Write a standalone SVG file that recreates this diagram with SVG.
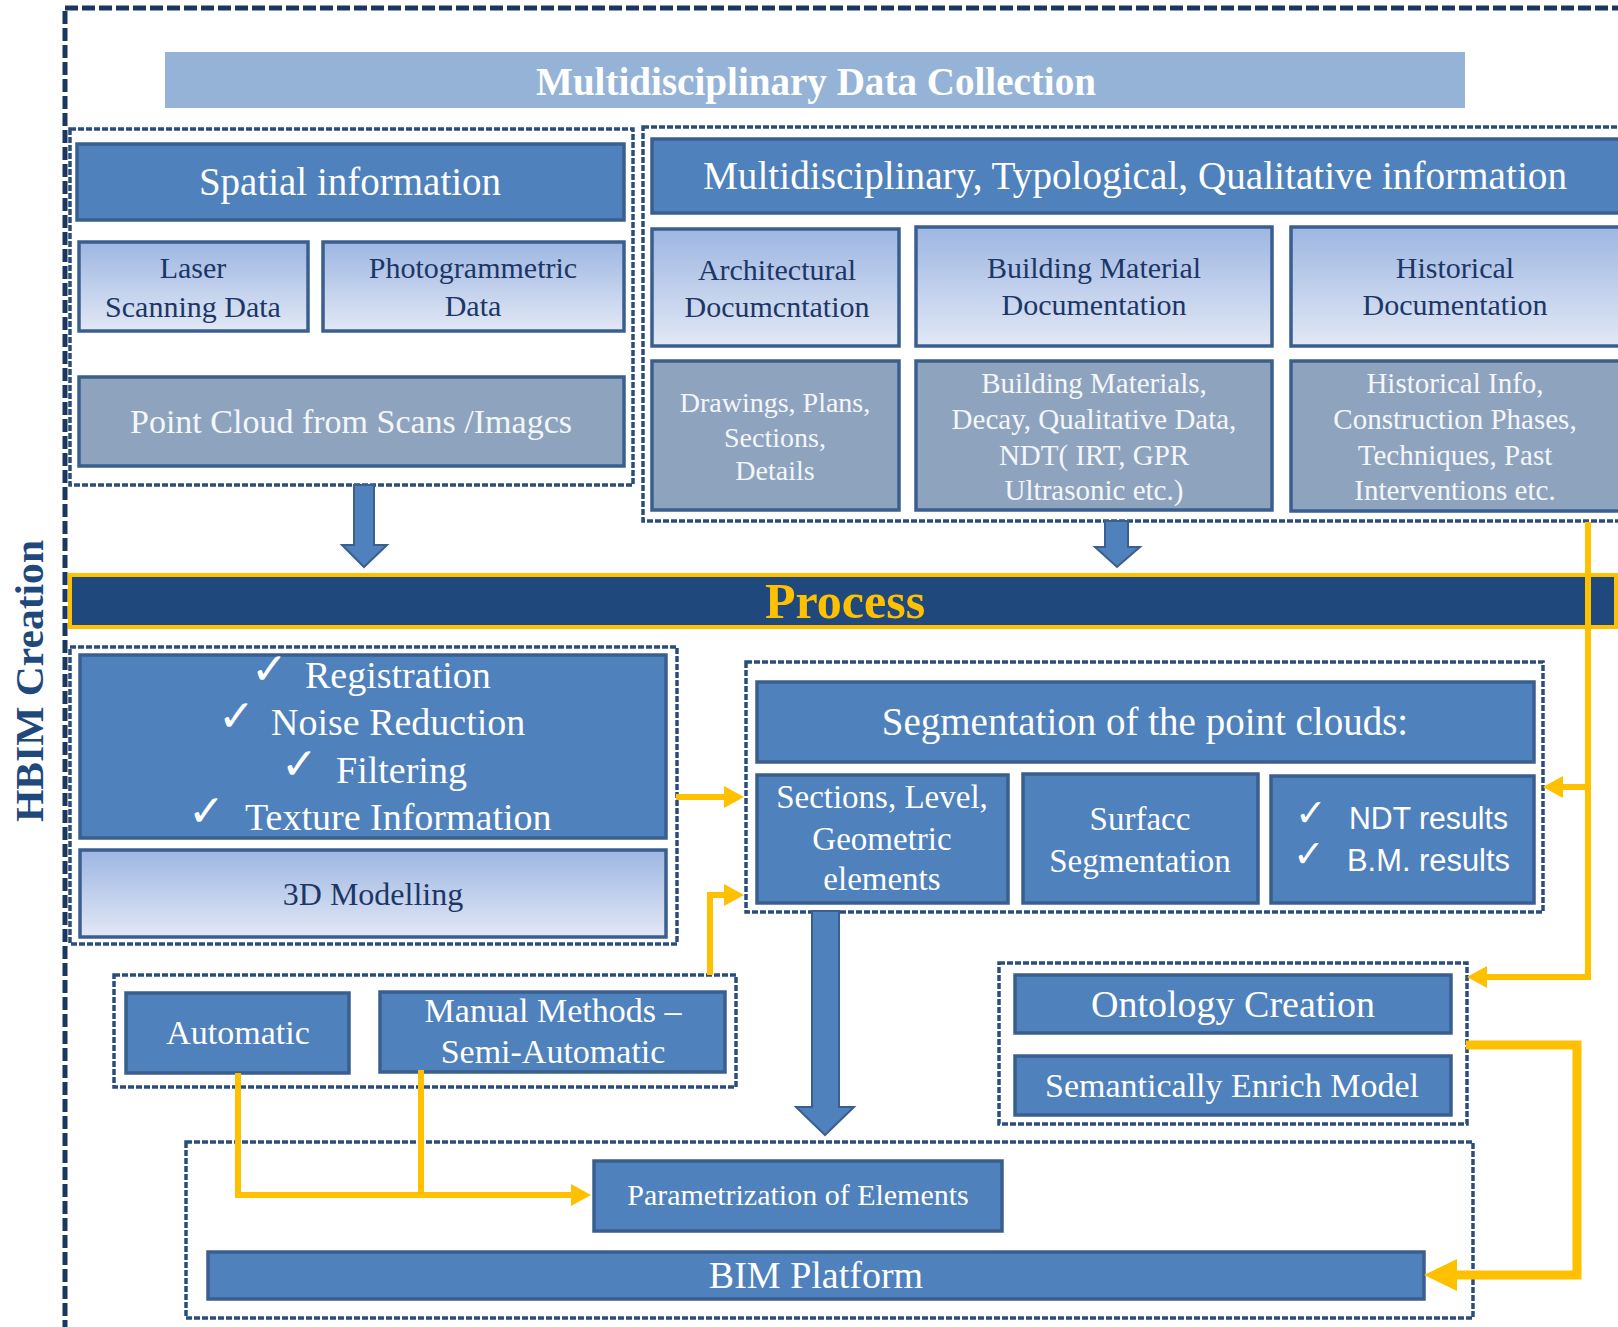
<svg xmlns="http://www.w3.org/2000/svg" width="1618" height="1327" viewBox="0 0 1618 1327">
  <defs>
    <linearGradient id="lightFill" x1="0" y1="0" x2="0" y2="1">
      <stop offset="0" stop-color="#9DB6E2"/>
      <stop offset="1" stop-color="#E2E8F5"/>
    </linearGradient>
    <marker id="goldHead" markerUnits="userSpaceOnUse" viewBox="0 0 20 22" markerWidth="20" markerHeight="22" refX="0" refY="11" orient="auto">
      <path d="M0,0 L20,11 L0,22 z" fill="#FFC000"/>
    </marker>
    <marker id="goldHeadBig" markerUnits="userSpaceOnUse" viewBox="0 0 33 32" markerWidth="33" markerHeight="32" refX="0" refY="16" orient="auto">
      <path d="M0,0 L33,16 L0,32 z" fill="#FFC000"/>
    </marker>
    <style>
      .frame { fill: none; stroke: #1B365F; stroke-width: 5; stroke-dasharray: 13 4; }
      .grp { fill: none; stroke: #2B4C7E; stroke-width: 3.5; stroke-dasharray: 6 2; }
      .blue { fill: #4F81BD; stroke: #3A5F8F; stroke-width: 3.5; }
      .light { fill: url(#lightFill); stroke: #3A5F8F; stroke-width: 3.5; }
      .gray { fill: #8EA4BE; stroke: #3A5F8F; stroke-width: 3.5; }
      .arrow { fill: #4F81BD; stroke: #3A5F8F; stroke-width: 2; }
      .gold { fill: none; stroke: #FFC000; stroke-width: 6; }
      .goldw { fill: none; stroke: #FFC000; stroke-width: 9; }
      text { font-family: "Liberation Serif", "Times New Roman", serif; text-anchor: middle; }
      .w { fill: #FFFFFF; }
      .d { fill: #1C3766; }
      .gw { fill: #F4F6FA; }
      .ck { font-family: "DejaVu Sans", sans-serif; font-size: 44px; text-anchor: start; }
      .cks { font-family: "DejaVu Sans", sans-serif; font-size: 38px; text-anchor: start; }
    </style>
  </defs>

  <!-- outer frame and side label -->
  <rect class="frame" x="65" y="8" width="1600" height="1400"/>
  <text x="43" y="681" transform="rotate(-90 43 681)" font-size="40" font-weight="bold" fill="#1F497D" textLength="282" lengthAdjust="spacingAndGlyphs">HBIM Creation</text>

  <!-- title bar -->
  <g id="data-collection">
    <rect x="165" y="52" width="1300" height="56" fill="#95B3D7"/>
    <text class="w" x="816" y="95" font-size="39" font-weight="bold" textLength="560" lengthAdjust="spacingAndGlyphs">Multidisciplinary  Data  Collection</text>
  </g>

  <!-- dotted group outlines -->
  <g id="groups">
    <rect class="grp" x="70" y="129" width="563" height="356"/>
    <rect class="grp" x="643" y="127" width="1000" height="394"/>
    <rect class="grp" x="70" y="647" width="607" height="297"/>
    <rect class="grp" x="746" y="662" width="797" height="250"/>
    <rect class="grp" x="114" y="975" width="622" height="112"/>
    <rect class="grp" x="999" y="963" width="468" height="161"/>
    <rect class="grp" x="186" y="1142" width="1287" height="176"/>
  </g>

  <!-- spatial information column -->
  <g id="spatial-information">
    <rect class="blue" x="77" y="144" width="547" height="76"/>
    <text class="w" x="350" y="195" font-size="39">Spatial information</text>
  </g>
  <g id="laser-scanning">
    <rect class="light" x="79" y="242" width="229" height="89"/>
    <text class="d" x="193" y="278" font-size="30">Laser</text>
    <text class="d" x="193" y="317" font-size="30">Scanning Data</text>
  </g>
  <g id="photogrammetric">
    <rect class="light" x="323" y="242" width="301" height="89"/>
    <text class="d" x="473" y="278" font-size="30">Photogrammetric</text>
    <text class="d" x="473" y="316" font-size="30">Data</text>
  </g>
  <g id="point-cloud">
    <rect class="gray" x="79" y="377" width="545" height="89"/>
    <text class="gw" x="351" y="433" font-size="34">Point Cloud from Scans /Imagcs</text>
  </g>

  <!-- qualitative information column -->
  <g id="qualitative-information">
    <rect class="blue" x="652" y="139" width="980" height="74"/>
    <text class="w" x="1135" y="189" font-size="39" textLength="864" lengthAdjust="spacingAndGlyphs">Multidisciplinary, Typological, Qualitative information</text>
  </g>
  <g id="architectural-doc">
    <rect class="light" x="652" y="229" width="247" height="117"/>
    <text class="d" x="777" y="280" font-size="30">Architectural</text>
    <text class="d" x="777" y="317" font-size="30">Documcntation</text>
  </g>
  <g id="material-doc">
    <rect class="light" x="916" y="227" width="356" height="119"/>
    <text class="d" x="1094" y="278" font-size="30">Building Material</text>
    <text class="d" x="1094" y="315" font-size="30">Documentation</text>
  </g>
  <g id="historical-doc">
    <rect class="light" x="1291" y="227" width="340" height="119"/>
    <text class="d" x="1455" y="278" font-size="30">Historical</text>
    <text class="d" x="1455" y="315" font-size="30">Documentation</text>
  </g>
  <g id="drawings">
    <rect class="gray" x="652" y="361" width="247" height="149"/>
    <text class="gw" x="775" y="412" font-size="28">Drawings, Plans,</text>
    <text class="gw" x="775" y="447" font-size="28">Sections,</text>
    <text class="gw" x="775" y="480" font-size="28">Details</text>
  </g>
  <g id="materials-data">
    <rect class="gray" x="916" y="361" width="356" height="149"/>
    <text class="gw" x="1094" y="393" font-size="29">Building Materials,</text>
    <text class="gw" x="1094" y="429" font-size="29">Decay, Qualitative Data,</text>
    <text class="gw" x="1094" y="465" font-size="29">NDT( IRT, GPR</text>
    <text class="gw" x="1094" y="500" font-size="29">Ultrasonic etc.)</text>
  </g>
  <g id="historical-data">
    <rect class="gray" x="1291" y="361" width="340" height="150"/>
    <text class="gw" x="1455" y="393" font-size="29">Historical Info,</text>
    <text class="gw" x="1455" y="429" font-size="29">Construction Phases,</text>
    <text class="gw" x="1455" y="465" font-size="29">Techniques, Past</text>
    <text class="gw" x="1455" y="500" font-size="29">Interventions  etc.</text>
  </g>

  <!-- process band -->
  <g id="process">
    <rect x="70" y="575" width="1546" height="52" fill="#1F497D" stroke="#FFC000" stroke-width="4"/>
    <text x="765" y="618" font-size="50" font-weight="bold" fill="#FFC000" style="text-anchor:start">Process</text>
  </g>

  <!-- pre-processing -->
  <g id="preprocessing">
    <rect class="blue" x="80" y="655" width="586" height="183"/>
    <text class="w ck" x="251" y="684">✓</text>
    <text class="w" x="305" y="688" font-size="38" style="text-anchor:start">Registration</text>
    <text class="w ck" x="218" y="731">✓</text>
    <text class="w" x="271" y="735" font-size="38" style="text-anchor:start">Noise Reduction</text>
    <text class="w ck" x="281" y="779">✓</text>
    <text class="w" x="336" y="783" font-size="38" style="text-anchor:start">Filtering</text>
    <text class="w ck" x="188" y="826">✓</text>
    <text class="w" x="245" y="830" font-size="38" style="text-anchor:start">Texture Information</text>
  </g>
  <g id="modelling">
    <rect class="light" x="80" y="850" width="586" height="87"/>
    <text class="d" x="373" y="905" font-size="32">3D Modelling</text>
  </g>

  <!-- segmentation -->
  <g id="segmentation">
    <rect class="blue" x="757" y="682" width="777" height="80"/>
    <text class="w" x="1145" y="735" font-size="39">Segmentation  of the point clouds:</text>
  </g>
  <g id="sections-level">
    <rect class="blue" x="757" y="775" width="251" height="128"/>
    <text class="w" x="882" y="808" font-size="33">Sections, Level,</text>
    <text class="w" x="882" y="850" font-size="33">Geometric</text>
    <text class="w" x="882" y="890" font-size="33">elements</text>
  </g>
  <g id="surface-segmentation">
    <rect class="blue" x="1023" y="774" width="235" height="129"/>
    <text class="w" x="1140" y="830" font-size="33">Surfacc</text>
    <text class="w" x="1140" y="872" font-size="33">Segmentation</text>
  </g>
  <g id="results">
    <rect class="blue" x="1271" y="776" width="263" height="127"/>
    <text class="w cks" x="1295" y="826">✓</text>
    <text class="w" x="1349" y="829" font-size="31" style="text-anchor:start;font-family:'Liberation Sans',Arial,sans-serif" textLength="159" lengthAdjust="spacingAndGlyphs">NDT results</text>
    <text class="w cks" x="1293" y="867">✓</text>
    <text class="w" x="1347" y="871" font-size="31" style="text-anchor:start;font-family:'Liberation Sans',Arial,sans-serif" textLength="163" lengthAdjust="spacingAndGlyphs">B.M. results</text>
  </g>

  <!-- methods -->
  <g id="automatic">
    <rect class="blue" x="126" y="993" width="223" height="80"/>
    <text class="w" x="238" y="1044" font-size="34">Automatic</text>
  </g>
  <g id="manual">
    <rect class="blue" x="380" y="992" width="345" height="80"/>
    <text class="w" x="553" y="1022" font-size="34">Manual Methods –</text>
    <text class="w" x="553" y="1063" font-size="34">Semi-Automatic</text>
  </g>

  <!-- semantics -->
  <g id="ontology">
    <rect class="blue" x="1015" y="975" width="436" height="58"/>
    <text class="w" x="1233" y="1017" font-size="38">Ontology  Creation</text>
  </g>
  <g id="semantic-model">
    <rect class="blue" x="1015" y="1056" width="436" height="59"/>
    <text class="w" x="1232" y="1097" font-size="34">Semantically Enrich Model</text>
  </g>

  <!-- BIM -->
  <g id="parametrization">
    <rect class="blue" x="594" y="1161" width="408" height="70"/>
    <text class="w" x="798" y="1205" font-size="30">Parametrization of Elements</text>
  </g>
  <g id="bim-platform">
    <rect class="blue" x="208" y="1252" width="1216" height="47"/>
    <text class="w" x="816" y="1288" font-size="38">BIM Platform</text>
  </g>

  <!-- connectors -->
  <g id="connectors">
    <polygon class="arrow" points="354,485 374,485 374,545 387,545 364,567 342,545 354,545"/>
    <polygon class="arrow" points="1105,521 1128,521 1128,547 1140,547 1117,567 1095,547 1105,547"/>
    <polygon class="arrow" points="812,911 839,911 839,1107 854,1107 825,1135 796,1107 812,1107"/>

    <path class="gold" d="M1588,522 V977 H1487" marker-end="url(#goldHead)"/>
    <path class="gold" d="M1588,787 H1563" marker-end="url(#goldHead)"/>
    <path class="gold" d="M676,797 H724" marker-end="url(#goldHead)"/>
    <path class="gold" d="M710,975 V895 H724" marker-end="url(#goldHead)"/>
    <path class="gold" d="M238,1073 V1195 H571" marker-end="url(#goldHead)"/>
    <path class="gold" d="M421,1070 V1195"/>
    <path class="goldw" d="M1466,1045 H1577 V1275 H1457" marker-end="url(#goldHeadBig)"/>
  </g>
</svg>
